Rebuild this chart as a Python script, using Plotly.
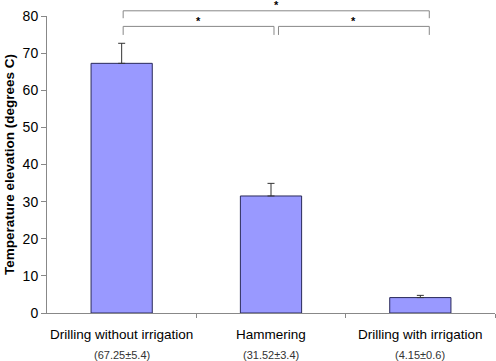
import plotly.graph_objects as go

categories = ["Drilling without irrigation", "Hammering", "Drilling with irrigation"]
sublabels = ["(67.25±5.4)", "(31.52±3.4)", "(4.15±0.6)"]
means = [67.25, 31.52, 4.15]
sds = [5.4, 3.4, 0.6]
yticks = [0, 10, 20, 30, 40, 50, 60, 70, 80]
YMAX = 80

# significance brackets: (x_start, x_end, y_bar, y_tick_bottom, star_y) in data units
brackets = [
    (0.01, 2.06, 81.4, 79.4, 85.0),
    (0.01, 1.02, 77.2, 74.9, 80.8),
    (1.05, 2.06, 77.2, 74.9, 80.8),
]


def yp(v):
    return v / YMAX


x = list(range(len(categories)))

fig = go.Figure()
fig.add_trace(go.Bar(
    x=x, y=means, width=0.41,
    marker=dict(color="#9999FF", line=dict(color="#2a2a5a", width=1)),
    error_y=dict(type="data", array=sds, arrayminus=[0] * 3, symmetric=False,
                 color="#333333", thickness=1, width=3.5),
    showlegend=False,
))

shapes = []
annotations = []
for (x0, x1, yb, yt, ys) in brackets:
    shapes.append(dict(type="path", xref="x", yref="paper",
                       path=f"M {x0},{yp(yt)} L {x0},{yp(yb)} L {x1},{yp(yb)} L {x1},{yp(yt)}",
                       line=dict(color="#888888", width=1)))
    annotations.append(dict(x=(x0 + x1) / 2, y=yp(ys), xref="x", yref="paper", text="<b>*</b>",
                            showarrow=False, font=dict(size=11, color="black",
                            family="Liberation Sans, Arial"), yanchor="top"))

for i, (c, s) in enumerate(zip(categories, sublabels)):
    annotations.append(dict(x=i, y=yp(-5.5), xref="x", yref="paper", text=c, showarrow=False,
                            font=dict(size=13.5, color="black", family="Liberation Sans, Arial"),
                            yanchor="middle", yshift=-1))
    annotations.append(dict(x=i, y=yp(-11.5), xref="x", yref="paper", text=s, showarrow=False,
                            font=dict(size=11, color="#333333", family="Liberation Sans, Arial"),
                            yanchor="middle", yshift=1))

fig.update_layout(
    width=496, height=361,
    margin=dict(l=47, r=1, t=16, b=48, autoexpand=False),
    paper_bgcolor="white", plot_bgcolor="white",
    font=dict(family="Liberation Sans, Arial", color="black"),
    shapes=shapes, annotations=annotations,
    xaxis=dict(range=[-0.5, 2.5], tickvals=[0.5, 1.5, 2.5], showticklabels=False,
               ticks="outside", ticklen=4, tickcolor="#888888",
               showline=True, linecolor="#888888", linewidth=1,
               showgrid=False, zeroline=False, automargin=False),
    yaxis=dict(range=[0, YMAX], tickvals=yticks, ticks="outside", ticklen=5,
               tickcolor="#888888", showline=True, linecolor="#888888", linewidth=1,
               showgrid=False, zeroline=False, tickfont=dict(size=14), automargin=False,
               title=dict(text="<b>Temperature elevation (degrees C)</b>",
                          font=dict(size=13.5), standoff=4)),
)

fig.write_html("out.html", config={"displayModeBar": False},
               post_script="document.body.style.margin='0';document.body.style.overflow='hidden';")
